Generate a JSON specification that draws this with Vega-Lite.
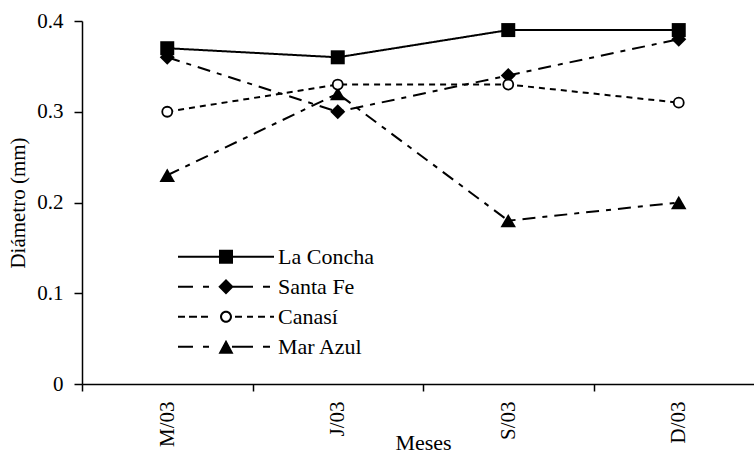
{
  "$schema": "https://vega.github.io/schema/vega-lite/v6.json",
  "width": 672,
  "height": 363,
  "autosize": {"type": "none"},
  "padding": {"left": 82, "top": 21, "right": 0, "bottom": 69},
  "background": "white",
  "config": {
    "font": "Liberation Serif",
    "view": {"stroke": null},
    "axis": {
      "grid": false,
      "domainColor": "black",
      "tickColor": "black",
      "labelColor": "black",
      "titleColor": "black",
      "labelFont": "Liberation Serif",
      "titleFont": "Liberation Serif",
      "titleFontWeight": "normal",
      "labelFontSize": 21,
      "titleFontSize": 21,
      "domainWidth": 1.5,
      "tickWidth": 1.5
    }
  },
  "data": {
    "values": [
      {"Serie": "La Concha", "Mes": "M/03", "Diametro": 0.37},
      {"Serie": "La Concha", "Mes": "J/03", "Diametro": 0.36},
      {"Serie": "La Concha", "Mes": "S/03", "Diametro": 0.39},
      {"Serie": "La Concha", "Mes": "D/03", "Diametro": 0.39},
      {"Serie": "Santa Fe", "Mes": "M/03", "Diametro": 0.36},
      {"Serie": "Santa Fe", "Mes": "J/03", "Diametro": 0.30},
      {"Serie": "Santa Fe", "Mes": "S/03", "Diametro": 0.34},
      {"Serie": "Santa Fe", "Mes": "D/03", "Diametro": 0.38},
      {"Serie": "Mar Azul", "Mes": "M/03", "Diametro": 0.23},
      {"Serie": "Mar Azul", "Mes": "J/03", "Diametro": 0.32},
      {"Serie": "Mar Azul", "Mes": "S/03", "Diametro": 0.18},
      {"Serie": "Mar Azul", "Mes": "D/03", "Diametro": 0.20},
      {"Serie": "Canasí", "Mes": "M/03", "Diametro": 0.30},
      {"Serie": "Canasí", "Mes": "J/03", "Diametro": 0.33},
      {"Serie": "Canasí", "Mes": "S/03", "Diametro": 0.33},
      {"Serie": "Canasí", "Mes": "D/03", "Diametro": 0.31}
    ]
  },
  "encoding": {
    "x": {
      "field": "Mes",
      "type": "nominal",
      "sort": ["M/03", "J/03", "S/03", "D/03"],
      "scale": {"type": "band", "domain": ["M/03", "J/03", "S/03", "D/03"], "range": [0, 682], "paddingInner": 0, "paddingOuter": 0},
      "axis": {
        "title": "Meses",
        "labelAngle": 270,
        "tickBand": "extent",
        "tickSize": 7,
        "labelPadding": 10,
        "titleY": 65,
        "titleBaseline": "alphabetic",
        "titleFontSize": 22
      }
    },
    "y": {
      "field": "Diametro",
      "type": "quantitative",
      "scale": {"domain": [0, 0.4]},
      "axis": {
        "title": "Diámetro (mm)",
        "values": [0, 0.1, 0.2, 0.3, 0.4],
        "format": "~g",
        "tickSize": 8,
        "labelPadding": 11,
        "titleAngle": 270,
        "titleX": -64,
        "titleY": 181.5,
        "titleAlign": "center",
        "titleBaseline": "middle"
      }
    }
  },
  "layer": [
    {
      "mark": {"type": "line", "color": "black", "strokeWidth": 2},
      "encoding": {
        "strokeDash": {
          "field": "Serie",
          "type": "nominal",
          "scale": {"domain": ["Mar Azul", "La Concha", "Santa Fe", "Canasí"], "range": [[13, 7, 5, 7], [1, 0], [13, 7, 5, 7], [6, 5]]},
          "legend": null
        }
      }
    },
    {
      "transform": [{"filter": "datum.Serie === 'La Concha'"}],
      "mark": {"type": "point", "shape": "square", "size": 196, "filled": true, "color": "black", "opacity": 1}
    },
    {
      "transform": [{"filter": "datum.Serie === 'Santa Fe'"}],
      "mark": {"type": "point", "shape": "diamond", "size": 225, "filled": true, "color": "black", "opacity": 1}
    },
    {
      "transform": [{"filter": "datum.Serie === 'Mar Azul'"}],
      "mark": {"type": "point", "shape": "triangle-up", "size": 240, "filled": true, "color": "black", "opacity": 1}
    },
    {
      "transform": [{"filter": "datum.Serie === 'Canasí'"}],
      "mark": {"type": "point", "shape": "circle", "size": 100, "filled": true, "fill": "white", "stroke": "black", "strokeWidth": 1.8, "opacity": 1}
    },
    {
      "mark": {"type": "point", "size": 0, "filled": true, "color": "black", "strokeWidth": 0},
      "encoding": {
        "shape": {
          "field": "Serie",
          "type": "nominal",
          "scale": {
            "domain": ["La Concha", "Santa Fe", "Canasí", "Mar Azul"],
            "range": [
              "M-1,-0.021H1V0.021H-1Z M-0.146,-0.146H0.146V0.146H-0.146Z",
              "M-1,-0.021H-0.688V0.021H-1Z M-0.479,-0.021H-0.354V0.021H-0.479Z M0.125,-0.021H0.563V0.021H0.125Z M0.771,-0.021H0.917V0.021H0.771Z M0,-0.16L0.16,0L0,0.16L-0.16,0Z",
              "M-1,-0.021H-0.854V0.021H-1Z M-0.771,-0.021H-0.604V0.021H-0.771Z M-0.521,-0.021H-0.375V0.021H-0.521Z M0.188,-0.021H0.333V0.021H0.188Z M0.438,-0.021H0.563V0.021H0.438Z M0.667,-0.021H0.813V0.021H0.667Z M0.917,-0.021H1V0.021H0.917Z M0.125,0A0.125,0.125,0,1,1,-0.125,0A0.125,0.125,0,1,1,0.125,0Z M0.083,0A0.083,0.083,0,1,0,-0.083,0A0.083,0.083,0,1,0,0.083,0Z",
              "M-1,-0.021H-0.688V0.021H-1Z M-0.479,-0.021H-0.354V0.021H-0.479Z M0.125,-0.021H0.563V0.021H0.125Z M0.771,-0.021H0.917V0.021H0.771Z M0,-0.146L0.156,0.146L-0.156,0.146Z"
            ]
          },
          "legend": {
            "title": null,
            "orient": "none",
            "legendX": 96,
            "legendY": 221,
            "padding": 0,
            "symbolSize": 9216,
            "clipHeight": 29.5,
            "rowPadding": 0,
            "labelFont": "Liberation Serif",
            "labelFontSize": 22,
            "labelColor": "black",
            "labelOffset": 4,
            "symbolStrokeWidth": 0,
            "symbolFillColor": "black",
            "symbolOpacity": 1
          }
        }
      }
    }
  ]
}
